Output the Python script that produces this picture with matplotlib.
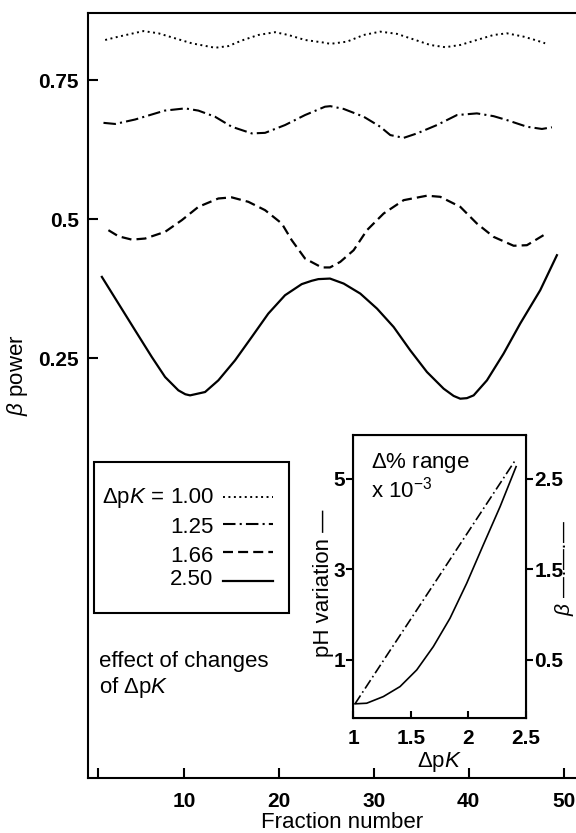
import matplotlib.pyplot as plt
from matplotlib.patches import Rectangle

plt.rcParams['font.family'] = ['Liberation Sans', 'DejaVu Sans']
plt.rcParams['mathtext.fontset'] = 'custom'
plt.rcParams['mathtext.rm'] = 'Liberation Sans'
plt.rcParams['mathtext.it'] = 'Liberation Sans:italic'
plt.rcParams['mathtext.bf'] = 'Liberation Sans:bold'

# beta power vs fraction number, one curve per delta pK
dpk_labels = ['1.00', '1.25', '1.66', '2.50']

frac_100 = [1.71, 3.11, 5.74, 7.32, 9.07, 10.83, 13.28, 14.68, 16.09, 17.84, 19.60,
            21.00, 22.76, 24.86, 25.42, 27.18, 28.94, 30.68, 32.44, 34.20, 35.95,
            37.53, 39.11, 40.86, 42.62, 44.02, 45.78, 47.18, 48.05]
beta_100 = [0.822, 0.828, 0.838, 0.834, 0.825, 0.816, 0.808, 0.811, 0.821, 0.831, 0.836,
            0.831, 0.822, 0.817, 0.815, 0.819, 0.831, 0.837, 0.833, 0.823, 0.813,
            0.809, 0.813, 0.822, 0.831, 0.834, 0.828, 0.821, 0.816]

frac_125 = [1.53, 2.76, 4.86, 7.98, 10.13, 11.53, 13.28, 15.04, 17.15, 18.55, 20.65,
            22.76, 24.86, 25.42, 26.83, 28.94, 30.68, 31.74, 33.15, 34.55, 36.65,
            38.76, 40.86, 42.62, 44.02, 46.13, 47.71, 48.76]
beta_125 = [0.673, 0.671, 0.679, 0.695, 0.699, 0.695, 0.684, 0.666, 0.654, 0.655, 0.669,
            0.687, 0.702, 0.703, 0.698, 0.684, 0.666, 0.651, 0.646, 0.654, 0.669,
            0.687, 0.690, 0.685, 0.678, 0.666, 0.662, 0.665]

frac_166 = [2.05, 3.11, 4.52, 5.92, 8.02, 9.78, 11.53, 13.63, 15.04, 16.79, 18.55,
            20.31, 21.36, 22.76, 24.52, 25.39, 26.47, 27.88, 29.28, 31.04, 33.15,
            35.60, 37.00, 39.11, 40.86, 42.62, 44.73, 46.13, 47.88]
beta_166 = [0.480, 0.469, 0.463, 0.465, 0.477, 0.498, 0.522, 0.537, 0.539, 0.531, 0.516,
            0.492, 0.462, 0.429, 0.413, 0.413, 0.423, 0.444, 0.480, 0.510, 0.534,
            0.542, 0.540, 0.522, 0.492, 0.468, 0.452, 0.453, 0.471]

frac_250 = [1.36, 3.11, 4.86, 6.62, 8.02, 9.42, 10.15, 10.65, 11.18, 12.23, 13.63, 15.39,
            17.15, 18.89, 20.65, 22.41, 23.46, 24.16, 25.39, 26.83, 28.58, 30.34, 32.09,
            33.84, 35.60, 37.36, 38.41, 39.11, 39.81, 40.52, 41.92, 43.67, 45.42, 47.53,
            49.29]
beta_250 = [0.396, 0.348, 0.300, 0.252, 0.216, 0.192, 0.185, 0.183, 0.185, 0.189, 0.210,
            0.246, 0.288, 0.330, 0.363, 0.383, 0.389, 0.392, 0.393, 0.384, 0.366, 0.339,
            0.306, 0.264, 0.225, 0.195, 0.182, 0.177, 0.178, 0.183, 0.210, 0.258, 0.312,
            0.372, 0.435]

# inset: pH variation and beta range against delta pK
dpk_ph = [1.015, 1.116, 1.261, 1.406, 1.551, 1.695, 1.840, 1.985, 2.129, 2.275, 2.414]
ph_var = [0.03, 0.043, 0.19, 0.411, 0.779, 1.294, 1.921, 2.694, 3.541, 4.387, 5.271]
dpk_beta = [1.015, 1.26, 1.75, 2.414]
beta_rng = [0.015, 0.49, 1.435, 2.72]

W, H = 576, 833


def fx(px):
    return px / W


def fy(py):
    return 1 - py / H


fig = plt.figure(figsize=(W / 100, H / 100), dpi=100)
ax = fig.add_axes([fx(88), fy(778), 1 - fx(88), (778 - 13) / H])

styles = [(0, (1, 1.8)), (0, (6, 2, 1, 2)), (0, (4.5, 2.3)), '-']
widths = [1.4, 1.5, 1.6, 1.6]
series = [(frac_100, beta_100), (frac_125, beta_125),
          (frac_166, beta_166), (frac_250, beta_250)]
for (xs, ys), ls, lw in zip(series, styles, widths):
    ax.plot(xs, ys, color='black', linestyle=ls, linewidth=lw, solid_joinstyle='round')

ax.set_xlim(-0.1, 51.3)
ax.set_ylim(-0.505, 0.8705)
ax.set_xticks([1, 10, 20, 30, 40, 50])
ax.set_xticklabels(['', '10', '20', '30', '40', '50'])
ax.set_yticks([0.25, 0.5, 0.75])
ax.set_yticklabels(['0.25', '0.5', '0.75'])
ax.tick_params(direction='in', length=7.5, width=1.5, labelsize=15)
ax.tick_params(axis='x', pad=10)
ax.tick_params(axis='y', pad=6.5)
for lbl in ax.get_xticklabels() + ax.get_yticklabels():
    lbl.set_fontweight('bold')
ax.spines['right'].set_visible(False)
for s in ['left', 'top', 'bottom']:
    ax.spines[s].set_linewidth(1.5)

fig.text(fx(18), fy(375), r'$\beta$ power', rotation=90, ha='center', va='center', fontsize=16)
fig.text(fx(342), fy(828), 'Fraction number', ha='center', va='baseline', fontsize=16)

# legend box drawn by hand
fig.add_artist(Rectangle((fx(94), fy(613)), 195 / W, 151 / H, transform=fig.transFigure,
                         fill=False, edgecolor='black', linewidth=1.5))
fig.text(fx(102), fy(503), r'$\Delta$p$K$ =', ha='left', va='baseline', fontsize=16)
text_base = [503, 533, 562, 585]
line_y = [497, 524, 552, 581]
for lab, tb, ly, ls, lw in zip(dpk_labels, text_base, line_y, styles, widths):
    fig.text(fx(170), fy(tb), lab, ha='left', va='baseline', fontsize=16)
    fig.add_artist(plt.Line2D([fx(223), fx(273)], [fy(ly), fy(ly)], transform=fig.transFigure,
                              color='black', linestyle=ls, linewidth=lw))

fig.text(fx(99), fy(667), 'effect of changes', ha='left', va='baseline', fontsize=16)
fig.text(fx(99), fy(693), r'of $\Delta$p$K$', ha='left', va='baseline', fontsize=16)

# inset
axi = fig.add_axes([fx(353.3), fy(718.3), (526 - 353.3) / W, (718.3 - 435) / H])
axi.plot(dpk_ph, ph_var, color='black', linewidth=1.2, solid_joinstyle='round')
axi.set_xlim(1, 2.5)
axi.set_ylim(-0.29, 5.97)
axi.set_xticks([1, 1.5, 2, 2.5])
axi.set_xticklabels(['1', '1.5', '2', '2.5'])
axi.set_yticks([1, 3, 5])
axi.set_yticklabels(['1', '3', '5'])
axi.tick_params(axis='x', direction='in', length=5, width=1.5, labelsize=15, pad=8)
axi.tick_params(axis='y', direction='out', length=5, width=1.5, labelsize=15, pad=1)
axi.set_xlabel(r'$\Delta$p$K$', fontsize=16, labelpad=1)
for s in axi.spines.values():
    s.set_linewidth(1.5)

axr = axi.twinx()
axr.plot(dpk_beta, beta_rng, color='black', linestyle=(0, (6, 2, 1, 2)), linewidth=1.2)
axr.set_ylim(-0.145, 2.985)
axr.set_yticks([0.5, 1.5, 2.5])
axr.set_yticklabels(['0.5', '1.5', '2.5'])
axr.tick_params(axis='y', direction='out', length=5, width=1.5, labelsize=15, pad=1)
for lbl in axi.get_xticklabels() + axi.get_yticklabels() + axr.get_yticklabels():
    lbl.set_fontweight('bold')

axi.text(0.10, 0.8835, r'$\Delta$% range', transform=axi.transAxes, ha='left', va='baseline', fontsize=16)
axi.text(0.10, 0.778, r'x 10$^{-3}$', transform=axi.transAxes, ha='left', va='baseline', fontsize=16)

fig.text(fx(323), fy(583), 'pH variation \u2014', rotation=90, ha='center', va='center', fontsize=16)
fig.text(fx(564), fy(568), '$\\beta$ \u2014\u00b7\u2014\u00b7\u2014', rotation=90, ha='center', va='center', fontsize=15)

fig.savefig('out.png', dpi=100)
